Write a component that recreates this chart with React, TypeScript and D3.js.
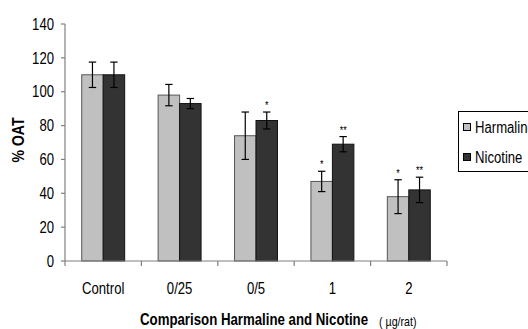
import React from "react";
import * as d3 from "d3";

// data
const categories = ["Control", "0/25", "0/5", "1", "2"];
const seriesNames = ["Harmaline", "Nicotine"];
const harmaline = [110, 98, 74, 47, 38];
const nicotine = [110, 93, 83, 69, 42];
const harmalineErr = [7.5, 6.3, 14, 6, 10];
const nicotineErr = [7.5, 3, 5, 4.5, 7.5];
const harmalineSig = ["", "", "", "*", "*"];
const nicotineSig = ["", "", "*", "**", "**"];
const yTicks = [0, 20, 40, 60, 80, 100, 120, 140];

const W = 528;
const H = 329;
const font = "'Liberation Sans', Arial, sans-serif";
const squeeze = 0.82; // the reference uses a narrow face

// text drawn horizontally condensed
function NText(props: {
  x: number;
  y: number;
  size: number;
  anchor?: string;
  bold?: boolean;
  dy?: string;
  children: React.ReactNode;
}) {
  const { x, y, size, anchor, bold, dy, children } = props;
  return (
    <text
      transform={`translate(${x},${y}) scale(${squeeze},1)`}
      dy={dy}
      textAnchor={anchor || "start"}
      fontFamily={font}
      fontWeight={bold ? "bold" : "normal"}
      fontSize={size}
    >
      {children}
    </text>
  );
}

export default function App() {
  const margin = { top: 24, right: 81, bottom: 68, left: 65 };
  const plotW = W - margin.left - margin.right;
  const plotH = H - margin.top - margin.bottom;

  const x = d3.scaleBand<string>().domain(categories).range([0, plotW]);
  const bw = x.bandwidth();
  const gap = bw * 0.219;
  const xInner = d3.scaleBand<string>().domain(seriesNames).range([gap, bw - gap]);
  const y = d3.scaleLinear().domain([0, 140]).range([plotH, 0]);

  const colors = ["#c0c0c0", "#333333"];
  const strokes = ["#555555", "#111111"];
  const values = [harmaline, nicotine];
  const errs = [harmalineErr, nicotineErr];
  const sigs = [harmalineSig, nicotineSig];

  return (
    <svg width={W} height={H} style={{ position: "absolute", left: 0, top: 0, background: "#fff" }}>
      <g transform={`translate(${margin.left},${margin.top})`}>
        {/* bars */}
        {categories.map((c, i) => (
          <g key={c} transform={`translate(${x(c)},0)`}>
            {seriesNames.map((s, k) => {
              const v = values[k][i];
              const e = errs[k][i];
              const bx = xInner(s) as number;
              const cx = bx + xInner.bandwidth() / 2;
              return (
                <g key={s}>
                  <rect
                    x={bx}
                    y={y(v)}
                    width={xInner.bandwidth()}
                    height={plotH - y(v)}
                    fill={colors[k]}
                    stroke={strokes[k]}
                    strokeWidth={1}
                  />
                  <line x1={cx} x2={cx} y1={y(v + e)} y2={y(v - e)} stroke="#000" strokeWidth={1.2} />
                  <line x1={cx - 3.7} x2={cx + 3.7} y1={y(v + e)} y2={y(v + e)} stroke="#000" strokeWidth={1.2} />
                  <line x1={cx - 3.7} x2={cx + 3.7} y1={y(v - e)} y2={y(v - e)} stroke="#000" strokeWidth={1.2} />
                  {sigs[k][i] && (
                    <NText x={cx} y={y(v + e) - 3} size={11} anchor="middle">
                      {sigs[k][i]}
                    </NText>
                  )}
                </g>
              );
            })}
          </g>
        ))}

        {/* y axis */}
        <line x1={0} x2={0} y1={0} y2={plotH} stroke="#808080" strokeWidth={1.2} />
        {yTicks.map((t) => (
          <g key={t} transform={`translate(0,${y(t)})`}>
            <line x1={-4} x2={0} stroke="#808080" strokeWidth={1.2} />
            <NText x={-11} y={0} dy="0.36em" size={16} anchor="end">
              {t}
            </NText>
          </g>
        ))}

        {/* x axis */}
        <line x1={0} x2={plotW} y1={plotH} y2={plotH} stroke="#808080" strokeWidth={1.2} />
        {[...categories.map((c) => x(c) as number), plotW].map((p, i) => (
          <line key={i} x1={p} x2={p} y1={plotH} y2={plotH + 5} stroke="#808080" strokeWidth={1.2} />
        ))}
        {categories.map((c) => (
          <NText key={c} x={(x(c) as number) + bw / 2} y={plotH + 27} dy="0.36em" size={16} anchor="middle">
            {c}
          </NText>
        ))}
      </g>

      {/* axis titles */}
      <text
        transform="translate(24,140) rotate(-90)"
        textAnchor="middle"
        fontFamily={font}
        fontWeight="bold"
        fontSize={16}
        textLength={45}
        lengthAdjust="spacingAndGlyphs"
      >
        % OAT
      </text>
      <text x={140} y={325} fontFamily={font} fontWeight="bold" fontSize={16} textLength={228} lengthAdjust="spacingAndGlyphs">
        Comparison Harmaline and Nicotine
      </text>
      <NText x={379} y={326} size={13}>
        ( µg/rat)
      </NText>

      {/* legend */}
      <rect x={458.5} y={111.5} width={80} height={60} fill="#fff" stroke="#000" strokeWidth={1} />
      {seriesNames.map((s, k) => (
        <g key={s} transform={`translate(463.5,${127 + k * 30})`}>
          <rect x={0} y={-3.5} width={7} height={7} fill={colors[k]} stroke="#000" strokeWidth={1} />
          <NText x={11.5} y={0} dy="0.36em" size={16}>
            {s}
          </NText>
        </g>
      ))}
    </svg>
  );
}
